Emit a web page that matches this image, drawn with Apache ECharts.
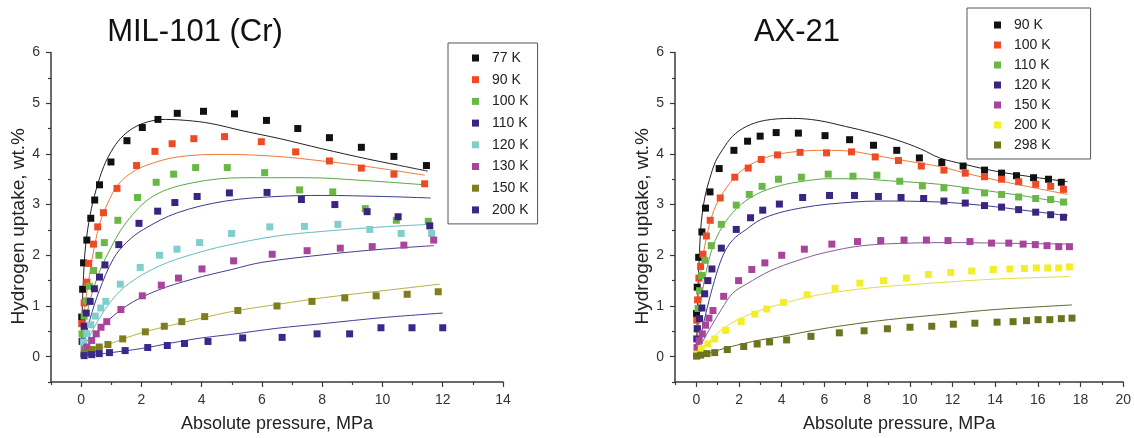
<!DOCTYPE html>
<html>
<head>
<meta charset="utf-8">
<script src="https://cdn.jsdelivr.net/npm/echarts@6/dist/echarts.min.js"></script>
<style>html,body{margin:0;padding:0;background:#fff}#c{width:1134px;height:438px}</style>
</head>
<body>
<div id="c"></div>
<script>
// ---------- tick labels ----------
const leftXMajor = [0, 2, 4, 6, 8, 10, 12, 14];
const leftXMinor = [-1, 1, 3, 5, 7, 9, 11, 13];
const rightXMajor = [0, 2, 4, 6, 8, 10, 12, 14, 16, 18, 20];
const rightXMinor = [-1, 1, 3, 5, 7, 9, 11, 13, 15, 17, 19];
const yMajor = [0, 1, 2, 3, 4, 5, 6];
const yMinor = [-0.5, 0.5, 1.5, 2.5, 3.5, 4.5, 5.5];

// ---------- MIL-101 (Cr) : measured points ----------
const mil77x = [0.02,0.05,0.08,0.19,0.32,0.45,0.61,0.99,1.52,2.03,2.55,3.19,4.06,5.09,6.15,7.19,8.24,9.30,10.38,11.46];
const mil77y = [0.78,1.33,1.85,2.30,2.73,3.09,3.39,3.84,4.26,4.52,4.68,4.80,4.84,4.79,4.66,4.50,4.32,4.13,3.95,3.77];
const mil90x = [0.02,0.1,0.19,0.25,0.41,0.55,0.74,1.19,1.84,2.45,3.02,3.74,4.76,5.98,7.12,8.24,9.30,10.38,11.40];
const mil90y = [0.65,1.06,1.47,1.84,2.22,2.56,2.84,3.32,3.77,4.05,4.20,4.30,4.34,4.24,4.04,3.86,3.72,3.60,3.41];
const mil100x = [0.03,0.1,0.17,0.27,0.41,0.59,0.77,1.22,1.87,2.49,3.07,3.80,4.85,6.09,7.25,8.35,9.43,10.46,11.52];
const mil100y = [0.45,0.8,1.1,1.39,1.70,2.0,2.25,2.69,3.14,3.44,3.60,3.73,3.73,3.63,3.29,3.25,2.92,2.69,2.67];
const mil110x = [0.03,0.1,0.17,0.30,0.44,0.61,0.79,1.25,1.92,2.54,3.11,3.85,4.92,6.17,7.31,8.42,9.49,10.52,11.57];
const mil110y = [0.3,0.6,0.86,1.09,1.34,1.57,1.81,2.21,2.63,2.87,3.04,3.16,3.23,3.24,3.10,3.0,2.86,2.76,2.58];
const mil120x = [0.08,0.19,0.32,0.47,0.65,0.82,1.3,1.96,2.6,3.18,3.93,4.99,6.26,7.41,8.52,9.58,10.62,11.63];
const mil120y = [0.29,0.45,0.63,0.80,0.96,1.09,1.43,1.76,2.0,2.12,2.25,2.43,2.56,2.57,2.61,2.51,2.43,2.43];
const mil130x = [0.19,0.35,0.5,0.66,0.85,1.32,2.03,2.66,3.23,4.01,5.06,6.34,7.5,8.6,9.66,10.71,11.7];
const mil130y = [0.19,0.32,0.45,0.58,0.69,0.93,1.20,1.41,1.55,1.73,1.89,2.02,2.09,2.14,2.17,2.20,2.30];
const mil150x = [0.15,0.37,0.6,0.89,1.38,2.13,2.76,3.34,4.1,5.2,6.5,7.66,8.75,9.79,10.82,11.85];
const mil150y = [0.08,0.14,0.19,0.24,0.35,0.49,0.60,0.69,0.79,0.91,1.0,1.09,1.16,1.20,1.23,1.28];
const mil200x = [0.1,0.35,0.6,0.94,1.46,2.21,2.86,3.43,4.21,5.36,6.67,7.83,8.91,9.95,10.98,12.0];
const mil200y = [0.02,0.04,0.06,0.08,0.12,0.18,0.22,0.26,0.30,0.37,0.38,0.45,0.45,0.57,0.57,0.57];

// ---------- MIL-101 (Cr) : fitted curves ----------
const milFit77 = [[0,0],[0.03,0.8],[0.08,1.6],[0.15,2.2],[0.3,2.8],[0.5,3.3],[0.75,3.75],[1.0,4.05],[1.3,4.3],[1.7,4.5],[2.2,4.63],[2.8,4.68],[3.5,4.66],[4.3,4.6],[5.4,4.45],[6.6,4.3],[8,4.1],[9.5,3.9],[10.5,3.78],[11.5,3.66]];
const milFit90 = [[0,0],[0.05,0.5],[0.15,1.1],[0.3,1.7],[0.45,2.2],[0.63,2.65],[0.9,3.05],[1.2,3.37],[1.6,3.6],[2.1,3.76],[3.2,3.94],[4.8,3.99],[6.5,3.95],[8,3.86],[9.5,3.75],[11.4,3.58]];
const milFit100 = [[0,0],[0.1,0.5],[0.25,1.0],[0.5,1.5],[0.85,1.99],[1.5,2.65],[2.4,3.17],[3.7,3.43],[5.4,3.53],[7.5,3.53],[9.5,3.47],[11.4,3.39]];
const milFit110 = [[0,0],[0.1,0.3],[0.3,0.75],[0.6,1.3],[1.07,1.93],[1.5,2.25],[2.07,2.51],[3.2,2.84],[4.8,3.07],[6.5,3.16],[8,3.18],[10,3.16],[11.6,3.13]];
const milFit120 = [[0,0],[0.2,0.3],[0.5,0.65],[1.0,1.1],[1.6,1.45],[2.6,1.79],[3.7,2.02],[4.8,2.19],[6.5,2.38],[8,2.47],[10,2.56],[11.6,2.61]];
const milFit130 = [[0,0],[0.3,0.3],[0.7,0.6],[1.5,1.0],[2.5,1.3],[3.7,1.53],[5,1.72],[6,1.86],[8.2,2.02],[10,2.12],[11.7,2.19]];
const milFit150 = [[0,0],[0.5,0.12],[1,0.26],[2,0.47],[3,0.62],[4,0.76],[5,0.89],[6.5,1.03],[8,1.16],[10,1.3],[11.9,1.43]];
const milFit200 = [[0,0],[1,0.08],[2,0.16],[3,0.27],[4,0.37],[5,0.44],[6.5,0.56],[8,0.65],[10,0.77],[12,0.86]];

// ---------- AX-21 : measured points ----------
const ax90x = [0.01,0.04,0.11,0.26,0.43,0.64,1.07,1.76,2.4,2.99,3.74,4.78,6.03,7.18,8.3,9.39,10.45,11.5,12.5,13.5,14.3,15.0,15.8,16.5,17.1];
const ax90y = [0.85,1.37,1.96,2.46,2.93,3.25,3.71,4.07,4.25,4.35,4.42,4.41,4.36,4.28,4.17,4.07,3.92,3.83,3.76,3.68,3.62,3.57,3.53,3.5,3.44];
const ax100x = [0.02,0.06,0.12,0.2,0.31,0.47,0.65,1.12,1.8,2.43,3.04,3.8,4.86,6.1,7.27,8.38,9.47,10.54,11.6,12.6,13.5,14.3,15.1,15.9,16.6,17.2];
const ax100y = [0.72,1.12,1.55,1.78,2.02,2.38,2.69,3.13,3.54,3.72,3.89,3.98,4.03,4.02,4.04,3.94,3.87,3.76,3.68,3.62,3.55,3.5,3.45,3.4,3.36,3.3];
const ax110x = [0.03,0.08,0.15,0.25,0.4,0.7,1.17,1.87,2.48,3.08,3.85,4.92,6.18,7.34,8.46,9.53,10.59,11.6,12.6,13.5,14.3,15.1,15.9,16.6,17.2];
const ax110y = [0.55,0.95,1.3,1.6,1.9,2.19,2.61,2.99,3.2,3.36,3.50,3.54,3.6,3.56,3.58,3.46,3.37,3.33,3.28,3.23,3.2,3.15,3.12,3.1,3.05];
const ax120x = [0.02,0.05,0.15,0.26,0.39,0.54,0.73,1.17,1.87,2.54,3.11,3.89,4.98,6.24,7.41,8.53,9.59,10.65,11.6,12.6,13.5,14.3,15.1,15.9,16.6,17.2];
const ax120y = [0.35,0.55,0.75,0.96,1.24,1.5,1.73,2.14,2.51,2.74,2.89,3.01,3.14,3.18,3.18,3.16,3.14,3.12,3.07,3.03,2.98,2.95,2.9,2.85,2.8,2.75];
const ax150x = [0.03,0.13,0.28,0.43,0.59,0.78,1.28,1.98,2.6,3.21,4.0,5.06,6.35,7.55,8.64,9.73,10.78,11.79,12.82,13.83,14.64,15.31,15.88,16.43,16.98,17.48];
const ax150y = [0.18,0.32,0.45,0.62,0.76,0.91,1.19,1.5,1.72,1.85,2.0,2.12,2.22,2.27,2.29,2.30,2.30,2.29,2.27,2.24,2.24,2.22,2.21,2.19,2.17,2.17];
const ax200x = [0.02,0.23,0.54,0.86,1.37,2.1,2.74,3.3,4.08,5.19,6.5,7.66,8.77,9.84,10.87,11.92,12.9,13.91,14.69,15.37,15.93,16.46,16.98,17.48];
const ax200y = [0.05,0.16,0.25,0.35,0.52,0.69,0.84,0.94,1.07,1.22,1.35,1.45,1.50,1.55,1.62,1.66,1.69,1.72,1.73,1.74,1.75,1.75,1.75,1.77];
const ax298x = [0.01,0.2,0.5,0.86,1.45,2.22,2.85,3.43,4.23,5.37,6.7,7.86,8.95,10.01,11.03,12.04,13.05,14.09,14.84,15.47,16.01,16.56,17.1,17.6];
const ax298y = [0.01,0.03,0.06,0.08,0.14,0.20,0.25,0.29,0.33,0.40,0.47,0.51,0.55,0.58,0.60,0.64,0.66,0.68,0.69,0.71,0.73,0.73,0.75,0.76];

// ---------- AX-21 : fitted curves ----------
const axFit90 = [[0,0],[0.05,1.0],[0.12,1.8],[0.23,2.65],[0.4,3.15],[0.62,3.5],[0.9,3.85],[1.24,4.09],[1.7,4.35],[2.34,4.54],[3.2,4.66],[4.5,4.70],[5.7,4.66],[7,4.54],[8.2,4.42],[9.35,4.28],[10.5,4.1],[11.4,3.92],[12.5,3.8],[14,3.66],[15.5,3.56],[17.4,3.45]];
const axFit100 = [[0,0],[0.05,0.7],[0.15,1.4],[0.3,1.95],[0.5,2.4],[0.75,2.8],[1.1,3.13],[1.8,3.54],[2.5,3.78],[3.5,3.96],[4.8,4.05],[6,4.07],[7.3,4.05],[8.5,3.96],[10,3.85],[11.4,3.75],[13,3.58],[15,3.4],[17.4,3.2]];
const axFit110 = [[0,0],[0.1,0.65],[0.25,1.2],[0.5,1.75],[0.8,2.2],[1.2,2.55],[1.9,2.93],[2.8,3.2],[3.9,3.37],[5,3.46],[6.2,3.51],[7.5,3.51],[9,3.47],[11.4,3.40],[13.5,3.28],[15.5,3.16],[17.4,3.02]];
const axFit120 = [[0,0],[0.2,0.4],[0.5,0.95],[0.85,1.5],[1.24,1.99],[1.7,2.3],[2.34,2.51],[3,2.7],[3.9,2.84],[5,2.94],[6.2,3.01],[8.6,3.07],[11.4,3.05],[13.5,2.98],[15.5,2.88],[17.4,2.78]];
const axFit150 = [[0,0],[0.3,0.3],[0.7,0.6],[1.2,0.95],[1.7,1.25],[2.34,1.43],[3.5,1.7],[4.7,1.89],[6,2.05],[7.8,2.19],[10,2.24],[12,2.25],[14,2.24],[17.4,2.22]];
const axFit200 = [[0,0],[0.5,0.25],[1.24,0.55],[2.34,0.81],[3.9,1.03],[5.5,1.2],[7,1.3],[8.5,1.37],[10,1.42],[11.7,1.47],[14,1.53],[17.5,1.58]];
const axFit298 = [[0,0],[1.56,0.19],[3,0.33],[3.9,0.39],[5.5,0.52],[7,0.62],[9,0.73],[11.7,0.84],[14,0.93],[17.6,1.02]];

// ---------- names ----------
const milNames = ['77 K','90 K','100 K','110 K','120 K','130 K','150 K','200 K'];
const axNames = ['90 K','100 K','110 K','120 K','150 K','200 K','298 K'];

// ---------- build ----------
const zip = (xs, ys) => xs.map((x, i) => [x, ys[i]]);
const FONT = '"Liberation Sans", Arial, sans-serif';
const AXC = '#3a3a3a';

const milSets = [
  [mil77x, mil77y, milFit77, '#111111', '#222222'],
  [mil90x, mil90y, milFit90, '#ee4a25', '#ec7a3c'],
  [mil100x, mil100y, milFit100, '#69b845', '#5aa64a'],
  [mil110x, mil110y, milFit110, '#3b2480', '#3a3a8c'],
  [mil120x, mil120y, milFit120, '#80cfcc', '#66bcbc'],
  [mil130x, mil130y, milFit130, '#a8449c', '#4a3c8c'],
  [mil150x, mil150y, milFit150, '#7f7d1e', '#b8b040'],
  [mil200x, mil200y, milFit200, '#362a8c', '#40409a']
];
const axSets = [
  [ax90x, ax90y, axFit90, '#111111', '#222222'],
  [ax100x, ax100y, axFit100, '#ee4a25', '#ec7a3c'],
  [ax110x, ax110y, axFit110, '#69b845', '#5aa64a'],
  [ax120x, ax120y, axFit120, '#3b2480', '#3a3a90'],
  [ax150x, ax150y, axFit150, '#a8449c', '#8a5a9a'],
  [ax200x, ax200y, axFit200, '#f2ee2a', '#e6de3c'],
  [ax298x, ax298y, axFit298, '#6e731e', '#5e6630']
];

const series = [];
function addPanel(sets, names, prefix, axisIdx) {
  sets.forEach((s, i) => {
    series.push({
      type: 'line', name: prefix + names[i] + ' fit', xAxisIndex: axisIdx, yAxisIndex: axisIdx,
      data: s[2], smooth: 0.35, showSymbol: false, symbol: 'none',
      lineStyle: { color: s[4], width: 1 }, z: 2, silent: true
    });
  });
  sets.forEach((s, i) => {
    series.push({
      type: 'scatter', name: prefix + names[i], xAxisIndex: axisIdx, yAxisIndex: axisIdx,
      data: zip(s[0], s[1]), symbol: 'rect', symbolSize: 7,
      itemStyle: { color: s[3], opacity: 1 }, z: 3
    });
  });
}
addPanel(milSets, milNames, 'MIL ', 0);
addPanel(axSets, axNames, 'AX ', 2);

function mainX(grid, max, major) {
  return {
    type: 'value', gridIndex: grid, min: -1, max: max, position: 'bottom',
    name: 'Absolute pressure, MPa', nameLocation: 'middle', nameGap: 33,
    nameTextStyle: { fontFamily: FONT, fontSize: 18, color: '#222' },
    axisLine: { show: true, onZero: false, lineStyle: { color: AXC, width: 1.5 } },
    axisTick: { show: true, length: 5, customValues: major, lineStyle: { color: AXC, width: 1.2 } },
    axisLabel: { show: true, customValues: major, margin: 11, fontFamily: FONT, fontSize: 14, color: '#333' },
    splitLine: { show: false }
  };
}
function minorX(grid, max, minor) {
  return {
    type: 'value', gridIndex: grid, min: -1, max: max, position: 'bottom',
    axisLine: { show: false, onZero: false },
    axisTick: { show: true, length: 3, customValues: minor, lineStyle: { color: AXC, width: 1.2 } },
    axisLabel: { show: false }, splitLine: { show: false }
  };
}
function mainY(grid) {
  return {
    type: 'value', gridIndex: grid, min: -0.5, max: 6, position: 'left',
    name: 'Hydrogen uptake, wt.%', nameLocation: 'middle', nameGap: 22, nameRotate: 90,
    nameTextStyle: { fontFamily: FONT, fontSize: 19, color: '#222', padding: [0, 18, 0, 0] },
    axisLine: { show: true, onZero: false, lineStyle: { color: AXC, width: 1.5 } },
    axisTick: { show: true, length: 5, customValues: yMajor, lineStyle: { color: AXC, width: 1.2 } },
    axisLabel: { show: true, customValues: yMajor, margin: 11, fontFamily: FONT, fontSize: 14, color: '#333' },
    splitLine: { show: false }
  };
}
function minorY(grid) {
  return {
    type: 'value', gridIndex: grid, min: -0.5, max: 6, position: 'left',
    axisLine: { show: false, onZero: false },
    axisTick: { show: true, length: 3, customValues: yMinor, lineStyle: { color: AXC, width: 1.2 } },
    axisLabel: { show: false }, splitLine: { show: false }
  };
}

const legendCommon = {
  orient: 'vertical', icon: 'rect', itemWidth: 7, itemHeight: 7,
  borderColor: '#555', borderWidth: 1, backgroundColor: '#fff',
  textStyle: { fontFamily: FONT, fontSize: 14, color: '#222', padding: [0, 0, 0, 8], lineHeight: 16 },
  selectedMode: false
};

const option = {
  animation: false,
  backgroundColor: '#ffffff',
  title: [
    { text: 'MIL-101 (Cr)', left: 190, top: 12, textAlign: 'center',
      textStyle: { fontFamily: FONT, fontSize: 31, fontWeight: 'normal', color: '#111' } },
    { text: 'AX-21', left: 792, top: 12, textAlign: 'center',
      textStyle: { fontFamily: FONT, fontSize: 31, fontWeight: 'normal', color: '#111' } }
  ],
  grid: [
    { left: 51, top: 52.5, width: 452, height: 331 },
    { left: 675, top: 52.5, width: 449, height: 331 }
  ],
  xAxis: [mainX(0, 14, leftXMajor), minorX(0, 14, leftXMinor), mainX(1, 20, rightXMajor), minorX(1, 20, rightXMinor)],
  yAxis: [mainY(0), minorY(0), mainY(1), minorY(1)],
  legend: [
    Object.assign({}, legendCommon, {
      left: 448, top: 43, itemGap: 5.7, padding: [7, 9, 6, 24],
      data: milNames.map(n => 'MIL ' + n),
      formatter: n => n.replace('MIL ', '')
    }),
    Object.assign({}, legendCommon, {
      left: 967, top: 8, itemGap: 4, padding: [9, 40, 6, 27],
      data: axNames.map(n => 'AX ' + n),
      formatter: n => n.replace('AX ', '')
    })
  ],
  series: series
};

const chart = echarts.init(document.getElementById('c'), null, { renderer: 'canvas' });
chart.setOption(option);
</script>
</body>
</html>
